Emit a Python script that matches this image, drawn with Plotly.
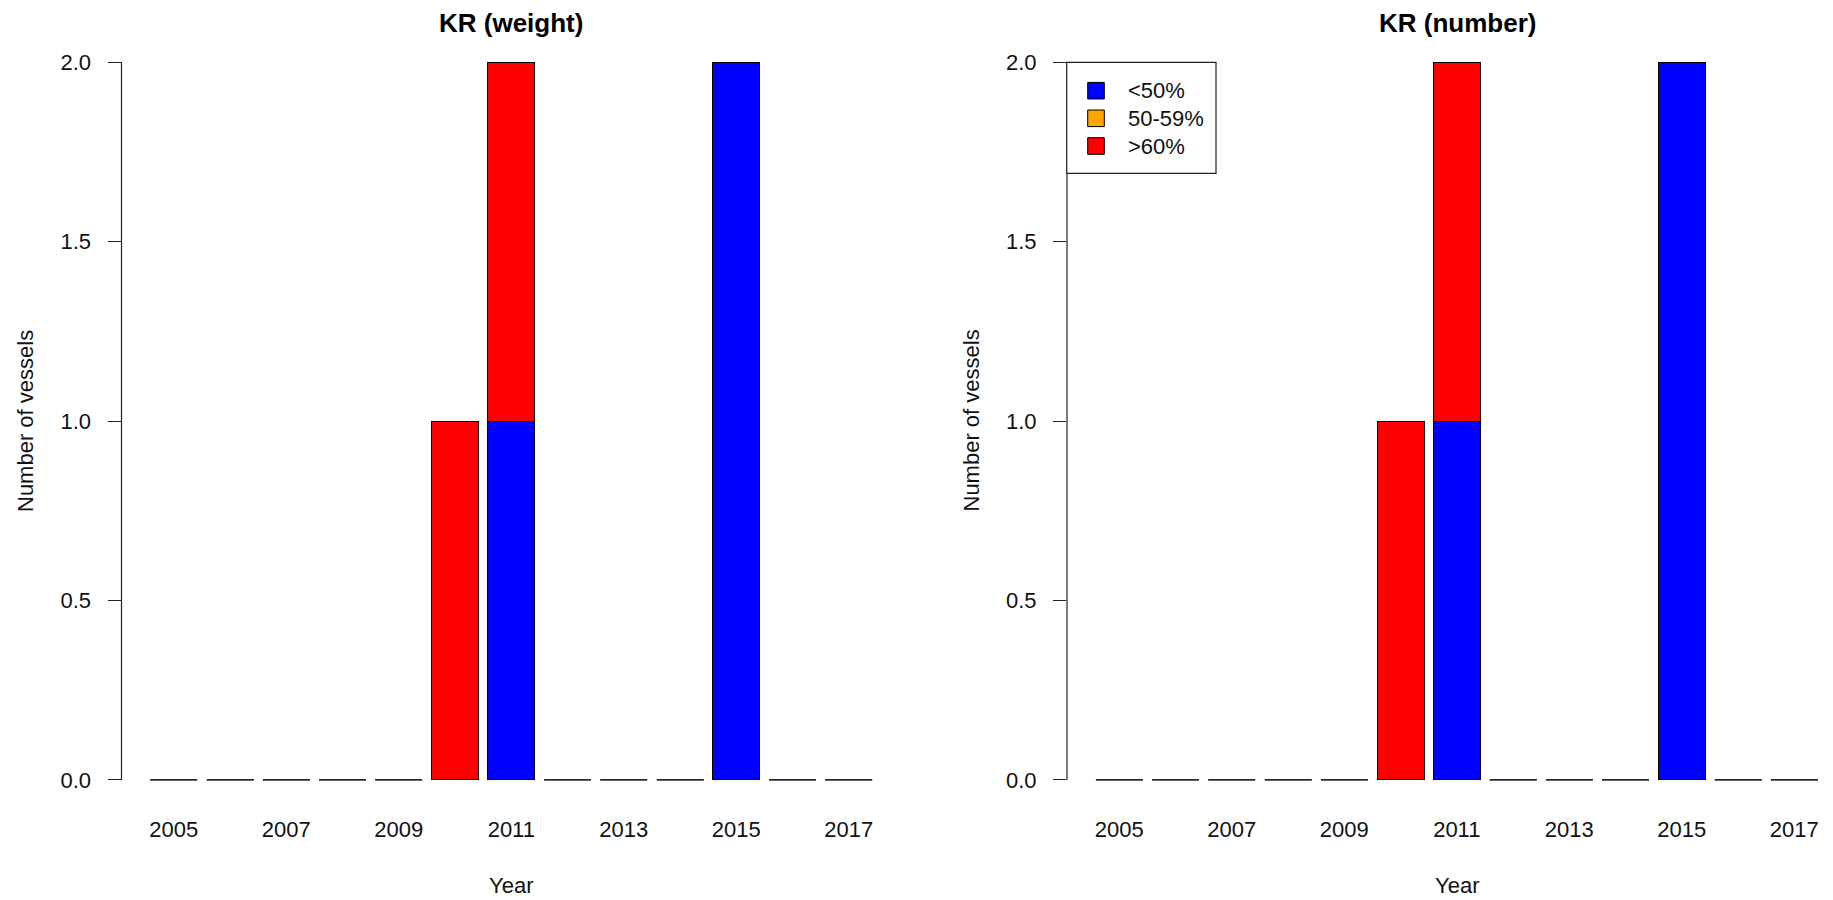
import plotly.graph_objects as go

# ---- data ----
years = [2005, 2006, 2007, 2008, 2009, 2010, 2011, 2012, 2013, 2014, 2015, 2016, 2017]
series_names = ["<50%", "50-59%", ">60%"]
weight_lt50 = [0, 0, 0, 0, 0, 0, 1, 0, 0, 0, 2, 0, 0]
weight_50_59 = [0, 0, 0, 0, 0, 0, 0, 0, 0, 0, 0, 0, 0]
weight_gt60 = [0, 0, 0, 0, 0, 1, 1, 0, 0, 0, 0, 0, 0]
number_lt50 = [0, 0, 0, 0, 0, 0, 1, 0, 0, 0, 2, 0, 0]
number_50_59 = [0, 0, 0, 0, 0, 0, 0, 0, 0, 0, 0, 0, 0]
number_gt60 = [0, 0, 0, 0, 0, 1, 1, 0, 0, 0, 0, 0, 0]
y_ticks = [0.0, 0.5, 1.0, 1.5, 2.0]
y_ticktext = ["0.0", "0.5", "1.0", "1.5", "2.0"]
x_tickyears = [2005, 2007, 2009, 2011, 2013, 2015, 2017]
panel_titles = ["KR (weight)", "KR (number)"]
x_title = "Year"
y_title = "Number of vessels"

# ---- style ----
colors = ["#0000FF", "#FFA500", "#FF0000"]
W, H = 1833, 900
FONT = "Liberation Sans, Arial, sans-serif"
TXT = "#111111"
BAR_W = 1 / 1.2
PX_PER_UNIT = 56.25
left_dom = [121.5 / W, 901.0 / W]
right_dom = [1067.0 / W, 1.0]
ydom = [1 - 808.7 / H, 1 - 33.3 / H]
x_lo = years[0] - 0.93
left_range = [x_lo, x_lo + (left_dom[1] - left_dom[0]) * W / PX_PER_UNIT]
right_range = [x_lo, x_lo + (right_dom[1] - right_dom[0]) * W / PX_PER_UNIT]
y_range = [-0.08, 2.08]


def px_x(v):
    return v / W


def px_y(v):
    return 1 - v / H


fig = go.Figure()

panels = [
    ([weight_lt50, weight_50_59, weight_gt60], "x", "y"),
    ([number_lt50, number_50_59, number_gt60], "x2", "y2"),
]

for vals, xa, ya in panels:
    for name, v, c in zip(series_names, vals, colors):
        fig.add_trace(go.Bar(
            x=years, y=v, name=name, width=BAR_W,
            marker=dict(color=c, line=dict(color="black", width=1)),
            xaxis=xa, yaxis=ya, showlegend=False,
        ))
    # zero-height bars drawn by R as flat outlines
    totals = [sum(t) for t in zip(*vals)]
    zx, zy = [], []
    for yr, t in zip(years, totals):
        if t == 0:
            zx += [yr - BAR_W / 2, yr + BAR_W / 2, None]
            zy += [0, 0, None]
    fig.add_trace(go.Scatter(
        x=zx, y=zy, mode="lines", line=dict(color="#333333", width=1.5),
        xaxis=xa, yaxis=ya, showlegend=False, hoverinfo="skip",
    ))

xaxis_common = dict(
    showgrid=False, zeroline=False, showline=False, ticks="",
    tickmode="array", tickvals=x_tickyears, ticktext=[str(v) for v in x_tickyears],
    tickfont=dict(family=FONT, size=22, color=TXT),
    ticklabelstandoff=5, fixedrange=True,
)
yaxis_common = dict(
    showgrid=False, zeroline=False, showline=False, ticks="outside", ticklen=13,
    tickwidth=1, tickcolor="#222222",
    tickmode="array", tickvals=y_ticks, ticktext=y_ticktext, range=y_range,
    tickfont=dict(family=FONT, size=22, color=TXT),
    ticklabelstandoff=12, domain=ydom, fixedrange=True,
)

fig.update_layout(
    width=W, height=H,
    margin=dict(l=0, r=0, t=0, b=0),
    paper_bgcolor="white", plot_bgcolor="white",
    barmode="stack",
    xaxis=dict(domain=left_dom, range=left_range, anchor="y", **xaxis_common),
    yaxis=dict(anchor="x", **yaxis_common),
    xaxis2=dict(domain=right_dom, range=right_range, anchor="y2", **xaxis_common),
    yaxis2=dict(anchor="x2", **yaxis_common),
    showlegend=False,
)

# axis lines spanning only the tick range (as R draws them)
for xa, ya in [("x", "y"), ("x2", "y2")]:
    fig.add_shape(type="line", xref=f"{xa} domain", yref=ya,
                  x0=0, x1=0, y0=y_ticks[0], y1=y_ticks[-1],
                  line=dict(color="#222222", width=1.2))

# legend (R style box) in the right panel
leg_left, leg_top, leg_right, leg_bottom = 1066.7, 62.3, 1216.0, 173.3
row_y = [90.7, 118.3, 146.0]
sq_x0, sq_x1, sq = 1087.7, 1104.3, 16.6
text_x = 1125.7
fig.add_shape(type="rect", xref="paper", yref="paper",
              x0=px_x(leg_left), x1=px_x(leg_right), y0=px_y(leg_bottom), y1=px_y(leg_top),
              line=dict(color="#222222", width=1.2), fillcolor="white", layer="above")
annos = []
for name, c, ry in zip(series_names, colors, row_y):
    fig.add_shape(type="rect", xref="paper", yref="paper",
                  x0=px_x(sq_x0), x1=px_x(sq_x1), y0=px_y(ry + sq / 2), y1=px_y(ry - sq / 2),
                  line=dict(color="black", width=1), fillcolor=c, layer="above")
    annos.append(dict(text=name, x=px_x(text_x), y=px_y(ry), xref="paper", yref="paper",
                      xanchor="left", yanchor="middle", showarrow=False,
                      font=dict(family=FONT, size=22, color=TXT)))

# titles and axis labels
for dom, title in zip([left_dom, [1067.0 / W, 1847.0 / W]], panel_titles):
    cx = (dom[0] + dom[1]) / 2
    annos.append(dict(text=f"<b>{title}</b>", x=cx, y=px_y(23), xref="paper", yref="paper",
                      xanchor="center", yanchor="middle", showarrow=False,
                      font=dict(family=FONT, size=26, color="black")))
    annos.append(dict(text=x_title, x=cx, y=px_y(885), xref="paper", yref="paper",
                      xanchor="center", yanchor="middle", showarrow=False,
                      font=dict(family=FONT, size=22, color=TXT)))
for xpx in [25, 25 + 945.5]:
    annos.append(dict(text=y_title, x=px_x(xpx), y=px_y(421), xref="paper", yref="paper",
                      xanchor="center", yanchor="middle", showarrow=False, textangle=-90,
                      font=dict(family=FONT, size=22, color=TXT)))
fig.update_layout(annotations=annos)

fig.write_html(
    "out.html",
    config={"displayModeBar": False},
    post_script="document.body.style.margin='0';document.body.style.overflow='hidden';",
)
